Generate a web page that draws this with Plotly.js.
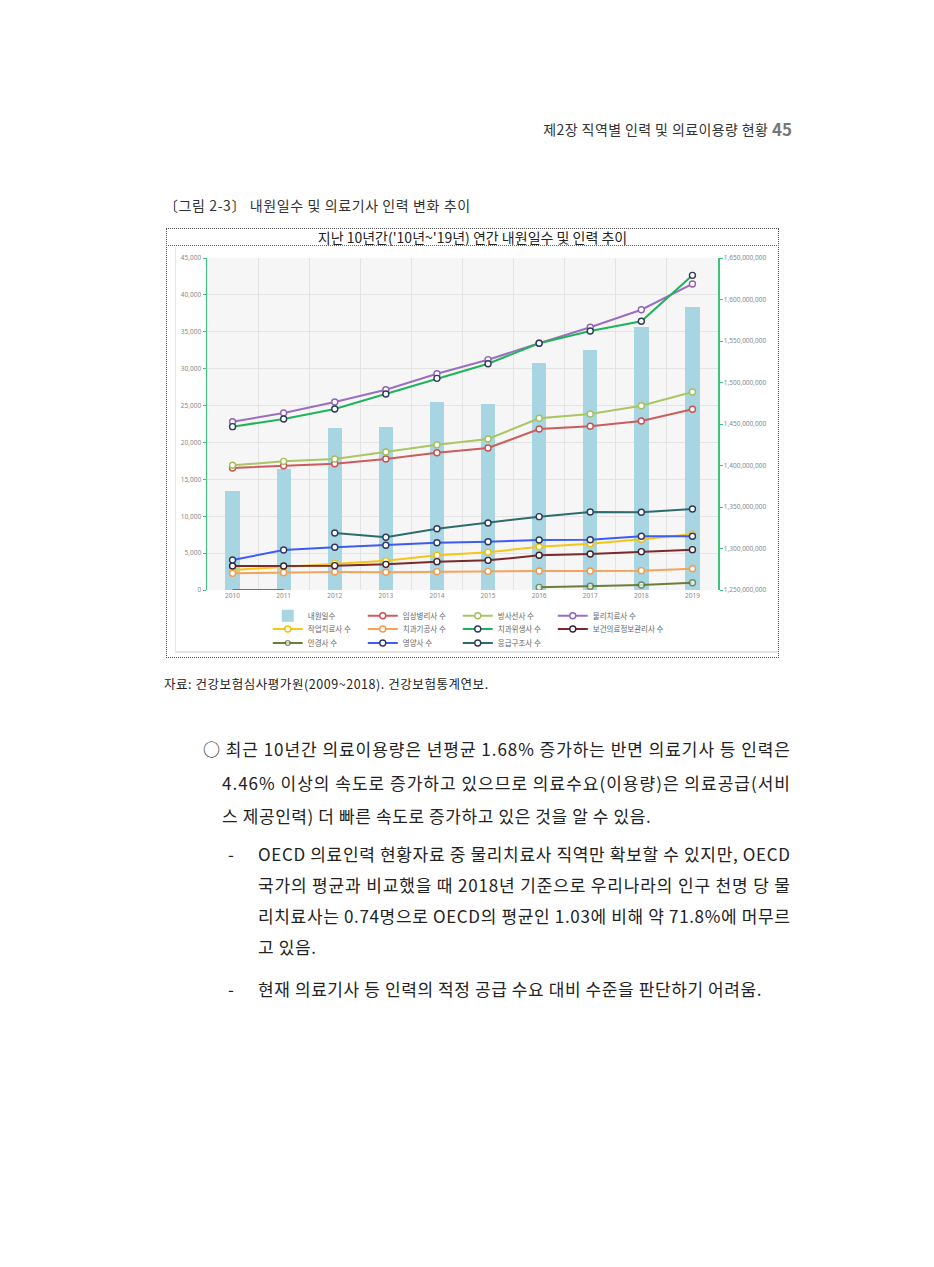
<!DOCTYPE html>
<html><head><meta charset="utf-8">
<script src="https://cdn.plot.ly/plotly-3.0.1.min.js"></script>
<style>
body{margin:0;background:#fff;width:934px;height:1267px;position:relative;overflow:hidden;font-family:"Noto Sans CJK KR","Noto Sans",sans-serif;color:#222;}
.t{position:absolute;white-space:nowrap;line-height:1.2;}
.b{font-size:17px;color:#222;letter-spacing:0.6px;}
#chart{position:absolute;left:166px;top:228px;width:613px;height:430px;}
#frame{position:absolute;left:166px;top:228px;width:613px;height:430px;box-sizing:border-box;border:1px dotted #555;pointer-events:none;}
#tline{position:absolute;left:166px;top:245px;width:613px;border-top:1px dotted #666;pointer-events:none;}
#inner{position:absolute;left:175px;top:247px;width:603px;height:406px;box-sizing:border-box;border-left:1px solid #e6e6e6;border-bottom:2px solid #e4e4e4;pointer-events:none;}
</style></head><body>
<div class="t" style="right:142px;top:119px;font-size:14px;color:#333;letter-spacing:0.4px;">제2장 직역별 인력 및 의료이용량 현황 <span style="font-size:17px;font-weight:bold;color:#777;vertical-align:-1px;letter-spacing:0;">45</span></div>
<div class="t" style="left:164px;top:197px;font-size:14px;color:#333;letter-spacing:0.6px;">〔그림 2-3〕 내원일수 및 의료기사 인력 변화 추이</div>
<div id="inner"></div>
<div id="chart"></div>
<div id="frame"></div>
<div id="tline"></div>
<div class="t" style="left:164px;top:676px;font-size:12.5px;color:#222;letter-spacing:0.55px;">자료: 건강보험심사평가원(2009~2018). 건강보험통계연보.</div>

<div class="t b j" data-w="587" style="left:203px;top:739px;">○ 최근 10년간 의료이용량은 년평균 1.68% 증가하는 반면 의료기사 등 인력은</div>
<div class="t b j" data-w="568" style="left:222px;top:773px;">4.46% 이상의 속도로 증가하고 있으므로 의료수요(이용량)은 의료공급(서비</div>
<div class="t b" style="left:222px;top:806px;">스 제공인력) 더 빠른 속도로 증가하고 있은 것을 알 수 있음.</div>
<div class="t b" style="left:228px;top:844px;">-</div>
<div class="t b j" data-w="532" style="left:258px;top:844px;">OECD 의료인력 현황자료 중 물리치료사 직역만 확보할 수 있지만, OECD</div>
<div class="t b j" data-w="532" style="left:258px;top:875px;">국가의 평균과 비교했을 때 2018년 기준으로 우리나라의 인구 천명 당 물</div>
<div class="t b j" data-w="532" style="left:258px;top:906px;">리치료사는 0.74명으로 OECD의 평균인 1.03에 비해 약 71.8%에 머무르</div>
<div class="t b" style="left:258px;top:937px;">고 있음.</div>
<div class="t b" style="left:228px;top:979px;">-</div>
<div class="t b" style="left:258px;top:979px;">현재 의료기사 등 인력의 적정 공급 수요 대비 수준을 판단하기 어려움.</div>

<script>
// ---- data ----
const years = [2010, 2011, 2012, 2013, 2014, 2015, 2016, 2017, 2018, 2019];
const visitDays = [1369600000, 1395400000, 1444800000, 1446400000, 1476900000, 1474100000, 1523900000, 1539200000, 1566900000, 1591400000];
const clinicalPath = [16540, 16850, 17120, 17760, 18610, 19250, 21820, 22190, 22910, 24490];
const radiology = [16900, 17440, 17760, 18710, 19690, 20470, 23270, 23860, 24980, 26840];
const physio = [22810, 23990, 25480, 27150, 29320, 31220, 33440, 35610, 37990, 41480];
const occupational = [2710, 3160, 3610, 3980, 4700, 5110, 5870, 6280, 6870, 7550];
const dentalTech = [2260, 2350, 2440, 2400, 2490, 2530, 2580, 2580, 2620, 2890];
const dentalHyg = [22140, 23180, 24530, 26570, 28690, 30670, 33440, 35110, 36420, 42650];
const healthInfo = [3250, 3250, 3300, 3480, 3840, 4020, 4700, 4880, 5200, 5470];
const optician = [0, 0, null, null, null, null, 360, 500, 680, 990];
const dietitian = [4070, 5420, 5790, 6060, 6410, 6550, 6780, 6820, 7280, 7280];
const emt = [null, null, 7730, 7140, 8310, 9080, 9940, 10570, 10530, 10980];

const names = {
  visit: '내원일수', cp: '임상병리사 수', rad: '방사선사 수', pt: '물리치료사 수',
  ot: '작업치료사 수', dt: '치과기공사 수', dh: '치과위생사 수', hi: '보건의료정보관리사 수',
  op: '안경사 수', diet: '영양사 수', emt: '응급구조사 수'
};

function line(y, name, color, outline, legend, msize) {
  return {
    type: 'scatter', mode: 'lines+markers', x: years, y: y, name: name,
    xaxis: 'x', yaxis: 'y2', legend: legend, connectgaps: false,
    line: {color: color, width: 2},
    marker: {symbol: 'circle', size: msize || 6, color: '#ffffff', line: {color: outline, width: 1.4}}
  };
}
const navy = '#2f3a5a';
const traces = [
  {type: 'bar', x: years, y: visitDays, name: names.visit, xaxis: 'x', yaxis: 'y',
   width: 0.28, marker: {color: '#a7d5e2'}, legend: 'legend'},
  line(clinicalPath, names.cp, '#cd5c5c', '#c85050', 'legend'),
  line(radiology, names.rad, '#a9c565', '#a2bf5a', 'legend'),
  line(physio, names.pt, '#9b6fc0', '#8f62b5', 'legend'),
  line(occupational, names.ot, '#f5c518', '#f0bf10', 'legend2'),
  line(dentalTech, names.dt, '#f5a35a', '#f29a4c', 'legend2'),
  line(dentalHyg, names.dh, '#1fb35a', navy, 'legend2'),
  line(healthInfo, names.hi, '#7a2a2a', '#3a2233', 'legend4'),
  line(optician, names.op, '#6b7d3a', '#5e6e30', 'legend3', [0, 0, 6, 6, 6, 6, 6, 6, 6, 6]),
  line(dietitian, names.diet, '#3c5cf5', navy, 'legend3'),
  line(emt, names.emt, '#2d6b6e', navy, 'legend3')
];

const green = '#3cc47c';
const tickF = {size: 6.5, color: '#888', family: 'Noto Sans, sans-serif'};
const legF = {size: 7.5, color: '#666', family: 'Noto Sans CJK KR, sans-serif'};
function leg(x, y, ew) {
  return {orientation: 'h', xref: 'container', yref: 'container', x: x, y: y,
          xanchor: 'left', yanchor: 'middle', font: legF, bgcolor: 'rgba(0,0,0,0)',
          entrywidth: ew, entrywidthmode: 'pixels', itemwidth: 30, tracegroupgap: 0};
}

const layout = {
  width: 613, height: 430,
  margin: {l: 41, r: 61, t: 30, b: 68},
  paper_bgcolor: 'rgba(0,0,0,0)', plot_bgcolor: '#f6f6f6',
  title: {text: "지난 10년간('10년~'19년) 연간 내원일수 및 인력 추이", x: 0.5, xanchor: 'center',
          y: 1 - 10 / 430, yanchor: 'middle', yref: 'container',
          font: {size: 14, color: '#222', family: 'Noto Sans CJK KR, sans-serif'}},
  bargap: 0,
  xaxis: {range: [2009.5, 2019.5], tickvals: years, ticks: '', showgrid: false, zeroline: false,
          showline: false, tickfont: tickF,
          minor: {tick0: 2009.5, dtick: 1, showgrid: true, gridcolor: '#e3e3e3', gridwidth: 1, ticks: ''}},
  yaxis: {side: 'right', range: [1250000000, 1650000000], dtick: 50000000, tickformat: ',d',
          showgrid: false, zeroline: false, showline: true, linecolor: green, linewidth: 1.5,
          ticks: 'outside', ticklen: 3, tickcolor: green, tickfont: tickF},
  yaxis2: {overlaying: 'y', side: 'left', range: [0, 45000], dtick: 5000, tickformat: ',d',
           showgrid: true, gridcolor: '#e3e3e3', zeroline: false, showline: true, linecolor: green,
           linewidth: 1.5, ticks: 'outside', ticklen: 3, tickcolor: green, tickfont: tickF},
  legend: leg(0.166, 0.0984, 50),
  legend2: leg(0.166, 0.0674, 50),
  legend4: leg(0.631, 0.0674, 0),
  legend3: leg(0.166, 0.0349, 50),
  showlegend: true
};

Plotly.newPlot('chart', traces, layout, {displayModeBar: false, staticPlot: true});

// stretch justified body lines to their measured widths
function fit() {
  document.querySelectorAll('.j').forEach(function (el) {
    el.style.letterSpacing = '0px';
    const target = parseFloat(el.dataset.w);
    const natural = el.getBoundingClientRect().width;
    const n = Array.from(el.textContent).length - 1;
    el.style.letterSpacing = ((target - natural) / n) + 'px';
  });
}
fit();
if (document.fonts && document.fonts.ready) document.fonts.ready.then(fit);
</script>
</body></html>
